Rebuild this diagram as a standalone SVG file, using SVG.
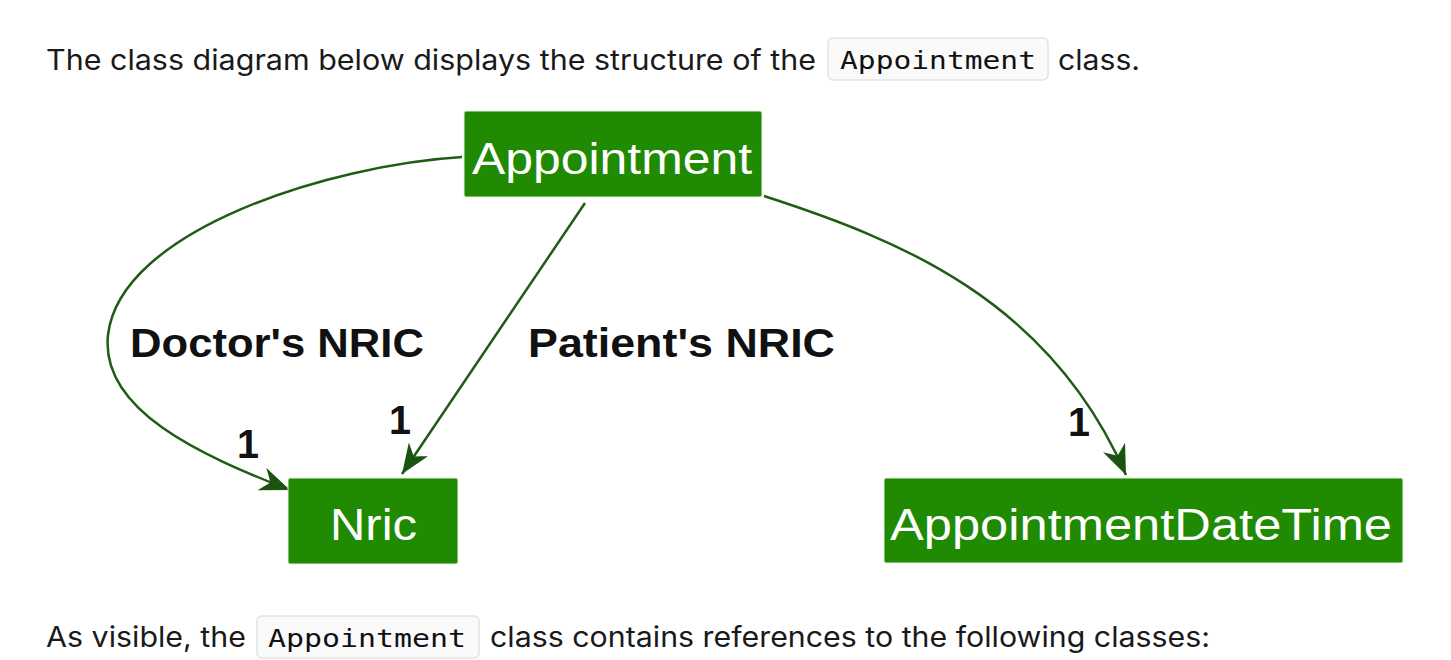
<svg xmlns="http://www.w3.org/2000/svg" width="1451" height="660" viewBox="0 0 1451 660">
<style>
.prose{font-family:"Inter","Liberation Sans",sans-serif;font-size:28px;fill:#1a1a1a}
.code{font-family:"DejaVu Sans Mono","Liberation Mono",monospace;font-size:25px;fill:#111}
.codebox{fill:#fafafa;stroke:#e3e3e3;stroke-width:1.5}
.box{fill:#1f8a02;stroke:#e8f0e0;stroke-width:1}
.ntext{font-family:"Liberation Sans",sans-serif;fill:#fff}
.lbl{font-family:"Liberation Sans",sans-serif;font-weight:bold;fill:#111}
.edge{fill:none;stroke:#1f5c14;stroke-width:2.5}
</style>
<defs>
<marker id="arr" viewBox="0 0 30 24" refX="30" refY="12" markerWidth="30" markerHeight="24" markerUnits="userSpaceOnUse" orient="auto">
<path d="M0,0 L30,12 L0,24 L9,12 z" fill="#1a5410"/>
</marker>
</defs>
<rect width="1451" height="660" fill="#fff"/>
<text class="prose" x="46" y="70" textLength="770" lengthAdjust="spacingAndGlyphs">The class diagram below displays the structure of the</text>
<rect class="codebox" x="828" y="38" width="220" height="42" rx="5"/>
<text class="code" x="840" y="69" textLength="196" lengthAdjust="spacingAndGlyphs">Appointment</text>
<text class="prose" x="1058" y="70" textLength="82" lengthAdjust="spacingAndGlyphs">class.</text>
<g id="connectors">
<path class="edge" d="M462,157 C330,165 120,230 108,335 C100,410 200,455 290,490" marker-end="url(#arr)"/>
<path class="edge" d="M585,203 L402,474" marker-end="url(#arr)"/>
<path class="edge" d="M764,196 C900,240 1050,300 1126,475" marker-end="url(#arr)"/>
<text class="lbl" x="130" y="357" font-size="40" textLength="294" lengthAdjust="spacingAndGlyphs">Doctor's NRIC</text>
<text class="lbl" x="528" y="357" font-size="40" textLength="307" lengthAdjust="spacingAndGlyphs">Patient's NRIC</text>
<text class="lbl" x="237" y="458" font-size="40" textLength="22" lengthAdjust="spacingAndGlyphs">1</text>
<text class="lbl" x="389" y="434" font-size="40" textLength="22" lengthAdjust="spacingAndGlyphs">1</text>
<text class="lbl" x="1068" y="436" font-size="40" textLength="22" lengthAdjust="spacingAndGlyphs">1</text>
</g>
<g id="node-appointment">
<rect class="box" x="464" y="111" width="298" height="86" rx="2"/>
<text class="ntext" x="472" y="174" font-size="45" textLength="280" lengthAdjust="spacingAndGlyphs">Appointment</text>
</g>
<g id="node-nric">
<rect class="box" x="288" y="478" width="170" height="86" rx="2"/>
<text class="ntext" x="330" y="540" font-size="45" textLength="87" lengthAdjust="spacingAndGlyphs">Nric</text>
</g>
<g id="node-appointmentdatetime">
<rect class="box" x="884" y="478" width="519" height="85" rx="2"/>
<text class="ntext" x="890" y="540" font-size="45" textLength="502" lengthAdjust="spacingAndGlyphs">AppointmentDateTime</text>
</g>
<text class="prose" x="46" y="647" textLength="200" lengthAdjust="spacingAndGlyphs">As visible, the</text>
<rect class="codebox" x="257" y="616" width="222" height="42" rx="5"/>
<text class="code" x="268" y="647" textLength="198" lengthAdjust="spacingAndGlyphs">Appointment</text>
<text class="prose" x="490" y="647" textLength="720" lengthAdjust="spacingAndGlyphs">class contains references to the following classes:</text>
</svg>
